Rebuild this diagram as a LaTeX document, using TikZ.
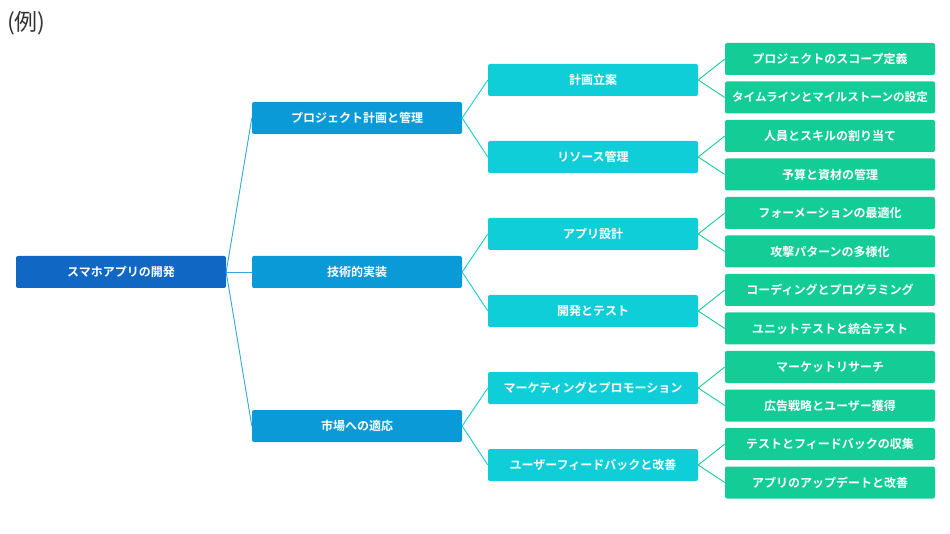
\documentclass[tikz,border=0pt]{standalone}
\usepackage{fontspec}
\setmainfont{Noto Sans CJK JP}
\newfontfamily\jpb{Noto Sans CJK JP Bold}
\definecolor{cRoot}{HTML}{1168C4}
\definecolor{cL1}{HTML}{0A9AD8}
\definecolor{cL2}{HTML}{10CED8}
\definecolor{cL3}{HTML}{14CC96}
\begin{document}
\begin{tikzpicture}[x=1pt,y=-1pt,
  box/.style={rounded corners=2pt, minimum width=210pt, minimum height=32pt, inner sep=0pt, text=white, font=\jpb\fontsize{12}{13}\selectfont, anchor=center},
  root/.style={box, fill=cRoot},
  lone/.style={box, fill=cL1},
  ltwo/.style={box, fill=cL2},
  lthree/.style={box, fill=cL3},
  long/.style={font=\jpb\fontsize{11.6}{13}\selectfont},
  link/.style={line width=0.9pt}]
\useasboundingbox (0,0) rectangle (950,534);
\node[anchor=west, text=black!80, font=\fontsize{23}{24}\selectfont, inner sep=0pt] (ex) at (7,23) {(例)};
\node[root] (r) at (121,272) {スマホアプリの開発};
\node[lone] (a) at (357,118) {プロジェクト計画と管理};
\node[lone] (b) at (357,272) {技術的実装};
\node[lone] (c) at (357,426) {市場への適応};
\node[ltwo] (a1) at (593,80) {計画立案};
\node[ltwo] (a2) at (593,157) {リソース管理};
\node[ltwo] (b1) at (593,234) {アプリ設計};
\node[ltwo] (b2) at (593,311) {開発とテスト};
\node[ltwo] (c1) at (593,388) {マーケティングとプロモーション};
\node[ltwo] (c2) at (593,465) {ユーザーフィードバックと改善};
\node[lthree] (a11) at (830,59) {プロジェクトのスコープ定義};
\node[lthree, long] (a12) at (830,97.5) {タイムラインとマイルストーンの設定};
\node[lthree] (a21) at (830,136) {人員とスキルの割り当て};
\node[lthree] (a22) at (830,174.5) {予算と資材の管理};
\node[lthree] (b11) at (830,213) {フォーメーションの最適化};
\node[lthree] (b12) at (830,251.5) {攻撃パターンの多様化};
\node[lthree] (b21) at (830,290) {コーディングとプログラミング};
\node[lthree] (b22) at (830,328.5) {ユニットテストと統合テスト};
\node[lthree] (c11) at (830,367) {マーケットリサーチ};
\node[lthree] (c12) at (830,405.5) {広告戦略とユーザー獲得};
\node[lthree] (c21) at (830,444) {テストとフィードバックの収集};
\node[lthree] (c22) at (830,482.5) {アプリのアップデートと改善};
\foreach \p/\q in {r/a,r/b,r/c}
  \draw[link, cL1!85] (\p.east) -- (\q.west);
\foreach \p/\q in {a/a1,a/a2,b/b1,b/b2,c/c1,c/c2}
  \draw[link, cL2] (\p.east) -- (\q.west);
\foreach \p/\q in {a1/a11,a1/a12,a2/a21,a2/a22,b1/b11,b1/b12,b2/b21,b2/b22,c1/c11,c1/c12,c2/c21,c2/c22}
  \draw[link, cL3] (\p.east) -- (\q.west);
\end{tikzpicture}
\end{document}
